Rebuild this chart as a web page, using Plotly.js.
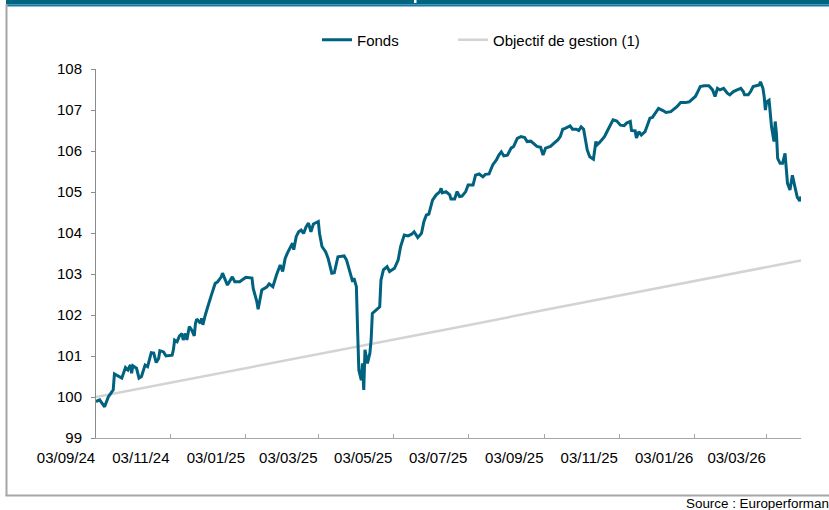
<!DOCTYPE html>
<html>
<head>
<meta charset="utf-8">
<script src="https://cdn.plot.ly/plotly-3.0.1.min.js"></script>
<style>
  html, body { margin: 0; padding: 0; background: #ffffff; }
  #chart { width: 829px; height: 510px; }
</style>
</head>
<body>
<div id="chart"></div>
<script>
// ---- Data ----
const fondsDates = [
  '2024-09-03','2024-09-06','2024-09-10','2024-09-13','2024-09-16','2024-09-17','2024-09-18','2024-09-24','2024-09-27','2024-09-29',
  '2024-10-01','2024-10-02','2024-10-03','2024-10-06','2024-10-08','2024-10-10','2024-10-13','2024-10-15','2024-10-18','2024-10-20',
  '2024-10-22','2024-10-24','2024-10-25','2024-10-28','2024-10-30','2024-11-04','2024-11-05','2024-11-06','2024-11-08','2024-11-10',
  '2024-11-12','2024-11-13','2024-11-15','2024-11-16','2024-11-18','2024-11-20','2024-11-22','2024-11-23','2024-11-24','2024-11-27',
  '2024-11-28','2024-11-29','2024-12-01','2024-12-02','2024-12-03','2024-12-06','2024-12-09','2024-12-11','2024-12-14','2024-12-15',
  '2024-12-18','2024-12-19','2024-12-23','2024-12-25','2024-12-29','2025-01-03','2025-01-08','2025-01-09','2025-01-12','2025-01-13',
  '2025-01-16','2025-01-20','2025-01-22','2025-01-25','2025-01-28','2025-01-31','2025-02-02','2025-02-04','2025-02-06','2025-02-08',
  '2025-02-10','2025-02-11','2025-02-13','2025-02-15','2025-02-17','2025-02-19','2025-02-21','2025-02-23','2025-02-25','2025-02-27',
  '2025-03-01','2025-03-03','2025-03-04','2025-03-06','2025-03-09','2025-03-11','2025-03-14','2025-03-16','2025-03-19','2025-03-24',
  '2025-03-26','2025-03-28','2025-03-30','2025-03-31','2025-04-01','2025-04-03','2025-04-04','2025-04-05','2025-04-07','2025-04-08',
  '2025-04-09','2025-04-10','2025-04-12','2025-04-14','2025-04-15','2025-04-16','2025-04-19','2025-04-22','2025-04-23','2025-04-25',
  '2025-04-28','2025-04-30','2025-05-04','2025-05-07','2025-05-09','2025-05-12','2025-05-15','2025-05-18','2025-05-20','2025-05-23',
  '2025-05-26','2025-05-28','2025-05-30','2025-06-01','2025-06-04','2025-06-07','2025-06-10','2025-06-11','2025-06-12','2025-06-15',
  '2025-06-18','2025-06-19','2025-06-22','2025-06-24','2025-06-26','2025-06-28','2025-07-01','2025-07-03','2025-07-07','2025-07-09',
  '2025-07-12','2025-07-15','2025-07-17','2025-07-20','2025-07-23','2025-07-26','2025-07-28','2025-07-30','2025-08-01','2025-08-04',
  '2025-08-07','2025-08-09','2025-08-12','2025-08-15','2025-08-18','2025-08-20','2025-08-23','2025-08-26','2025-08-28','2025-08-31',
  '2025-09-02','2025-09-04','2025-09-08','2025-09-11','2025-09-14','2025-09-16','2025-09-18','2025-09-20','2025-09-24','2025-09-26',
  '2025-09-29','2025-10-01','2025-10-03','2025-10-05','2025-10-06','2025-10-08','2025-10-10','2025-10-13','2025-10-15','2025-10-16',
  '2025-10-18','2025-10-22','2025-10-24','2025-10-27','2025-10-29','2025-11-01','2025-11-04','2025-11-07','2025-11-09','2025-11-12',
  '2025-11-13','2025-11-16','2025-11-17','2025-11-19','2025-11-21','2025-11-24','2025-11-26','2025-11-28','2025-11-30','2025-12-03',
  '2025-12-05','2025-12-09','2025-12-11','2025-12-15','2025-12-18','2025-12-20','2025-12-23','2025-12-27','2025-12-30','2026-01-01',
  '2026-01-04','2026-01-06','2026-01-08','2026-01-11','2026-01-15','2026-01-18','2026-01-20','2026-01-22','2026-01-24','2026-01-27',
  '2026-01-30','2026-02-01','2026-02-04','2026-02-07','2026-02-10','2026-02-12','2026-02-13','2026-02-16','2026-02-18','2026-02-20',
  '2026-02-23','2026-02-25','2026-02-26','2026-02-28','2026-03-01','2026-03-02','2026-03-03','2026-03-05','2026-03-06','2026-03-07',
  '2026-03-09','2026-03-10','2026-03-11','2026-03-12','2026-03-14','2026-03-16','2026-03-18','2026-03-19','2026-03-20','2026-03-22',
  '2026-03-23','2026-03-24','2026-03-26','2026-03-27','2026-03-28','2026-03-30','2026-03-31'
];
const fondsValues = [
  99.89, 99.93, 99.76, 100.00, 100.13, 100.17, 100.56, 100.46, 100.72, 100.66,
  100.78, 100.58, 100.76, 100.70, 100.46, 100.50, 100.78, 100.74, 101.08, 101.07,
  100.84, 100.94, 101.13, 101.10, 101.00, 101.02, 101.15, 101.39, 101.35, 101.49,
  101.55, 101.39, 101.55, 101.39, 101.72, 101.63, 101.49, 101.80, 101.90, 101.80,
  101.92, 101.76, 102.00, 102.12, 102.20, 102.49, 102.77, 102.81, 102.93, 103.02,
  102.81, 102.73, 102.93, 102.81, 102.81, 102.92, 102.90, 102.65, 102.32, 102.14,
  102.61, 102.68, 102.76, 102.69, 102.98, 103.22, 103.06, 103.38, 103.52, 103.63,
  103.75, 103.59, 103.91, 104.03, 104.07, 103.99, 104.15, 104.24, 104.03, 104.22,
  104.25, 104.28, 103.99, 103.67, 103.54, 103.38, 103.02, 103.03, 103.42, 103.44,
  103.34, 103.10, 102.90, 102.81, 102.90, 102.69, 101.63, 100.66, 100.41, 100.82,
  100.17, 101.15, 100.82, 101.07, 101.39, 102.04, 102.12, 102.20, 102.85, 103.10,
  103.18, 103.06, 103.14, 103.34, 103.67, 103.95, 103.93, 103.97, 104.03, 103.89,
  103.99, 104.28, 104.44, 104.46, 104.80, 104.93, 105.01, 105.09, 104.98, 105.01,
  104.93, 104.83, 104.83, 105.01, 104.89, 104.90, 105.01, 105.17, 105.17, 105.41,
  105.44, 105.37, 105.43, 105.44, 105.66, 105.78, 105.90, 105.98, 105.88, 105.90,
  106.07, 106.11, 106.31, 106.35, 106.33, 106.23, 106.24, 106.15, 106.11, 106.09,
  105.90, 106.07, 106.11, 106.19, 106.27, 106.35, 106.53, 106.55, 106.61, 106.53,
  106.53, 106.50, 106.59, 106.53, 106.35, 106.02, 105.86, 105.80, 106.23, 106.15,
  106.21, 106.35, 106.47, 106.63, 106.76, 106.73, 106.63, 106.62, 106.68, 106.72,
  106.50, 106.49, 106.32, 106.47, 106.39, 106.47, 106.63, 106.80, 106.82, 106.96,
  107.04, 106.98, 106.94, 106.96, 107.02, 107.08, 107.18, 107.18, 107.20, 107.26,
  107.33, 107.45, 107.57, 107.59, 107.59, 107.49, 107.33, 107.53, 107.49, 107.53,
  107.41, 107.37, 107.45, 107.49, 107.53, 107.45, 107.37, 107.37, 107.45, 107.57,
  107.59, 107.61, 107.69, 107.53, 107.33, 107.00, 107.20, 107.24, 106.92, 106.59,
  106.23, 106.72, 106.43, 105.82, 105.70, 105.70, 105.94, 105.54, 105.21, 105.05,
  105.21, 105.41, 105.13, 104.97, 104.87, 104.78, 104.89
];

const objectifDates = [
  '2024-09-03','2024-11-03','2025-01-03','2025-03-03','2025-05-03','2025-07-03',
  '2025-09-03','2025-11-03','2026-01-03','2026-03-03','2026-03-31'
];
const objectifValues = [
  100.00, 100.35, 100.70, 101.04, 101.40, 101.75,
  102.12, 102.47, 102.83, 103.17, 103.33
];

const seriesNames = ['Fonds', 'Objectif de gestion (1)'];
const tickDates = [
  '2024-09-03','2024-11-03','2025-01-03','2025-03-03','2025-05-03',
  '2025-07-03','2025-09-03','2025-11-03','2026-01-03','2026-03-03'
];
const tickLabels = [
  '03/09/24','03/11/24','03/01/25','03/03/25','03/05/25',
  '03/07/25','03/09/25','03/11/25','03/01/26','03/03/26'
];
const yTicks = [99, 100, 101, 102, 103, 104, 105, 106, 107, 108];
const sourceText = 'Source : Europerformance';

// ---- Layout helpers (pixel -> paper) ----
const W = 829, H = 510;
const M = { l: 96, r: 28, t: 69, b: 72 };
const PW = W - M.l - M.r, PH = H - M.t - M.b;
const px = x => (x - M.l) / PW;
const py = y => 1 - (y - M.t) / PH;

const FONT = '"Liberation Sans", Arial, sans-serif';

const traces = [
  {
    type: 'scatter', mode: 'lines',
    name: seriesNames[1],
    x: objectifDates, y: objectifValues,
    line: { color: '#d3d3d3', width: 2.5 },
    legend: 'legend2', hoverinfo: 'skip'
  },
  {
    type: 'scatter', mode: 'lines',
    name: seriesNames[0],
    x: fondsDates, y: fondsValues,
    line: { color: '#00627e', width: 3 },
    legend: 'legend', hoverinfo: 'skip'
  }
];

const legendBase = {
  orientation: 'h',
  xanchor: 'left',
  y: py(40), yanchor: 'middle',
  font: { family: FONT, size: 15, color: '#000000' },
  bgcolor: 'rgba(0,0,0,0)'
};

const layout = {
  width: W, height: H,
  margin: M,
  paper_bgcolor: '#ffffff',
  plot_bgcolor: '#ffffff',
  font: { family: FONT, size: 15, color: '#000000' },
  showlegend: true,
  legend: Object.assign({}, legendBase, { x: px(317) }),
  legend2: Object.assign({}, legendBase, { x: px(453) }),
  xaxis: {
    type: 'date',
    range: ['2024-09-03', '2026-03-31'],
    tickmode: 'array',
    tickvals: tickDates,
    ticktext: tickLabels,
    ticks: 'inside', ticklen: 4, tickwidth: 1, tickcolor: '#a6a6a6',
    showline: true, linecolor: '#a6a6a6', linewidth: 1,
    showgrid: false, zeroline: false,
    tickfont: { family: FONT, size: 15, color: '#000000' },
    ticklabelshift: -30,
    ticklabelstandoff: 6,
    fixedrange: true
  },
  yaxis: {
    range: [99, 108],
    tickmode: 'array',
    tickvals: yTicks,
    ticktext: yTicks.map(String),
    ticks: 'outside', ticklen: 4, tickwidth: 1, tickcolor: '#8c8c8c',
    showline: true, linecolor: '#8c8c8c', linewidth: 1,
    showgrid: false, zeroline: false,
    tickfont: { family: FONT, size: 15, color: '#000000' },
    ticklabelstandoff: 6,
    fixedrange: true
  },
  shapes: [
    { type: 'rect', xref: 'paper', yref: 'paper', x0: px(6), x1: px(830), y0: py(0), y1: py(4.5),
      fillcolor: '#006680', line: { width: 0 }, layer: 'above' },
    { type: 'rect', xref: 'paper', yref: 'paper', x0: px(6), x1: px(830), y0: py(4.5), y1: py(6.5),
      fillcolor: '#1479a6', line: { width: 0 }, layer: 'above' },
    { type: 'rect', xref: 'paper', yref: 'paper', x0: px(414), x1: px(416.5), y0: py(0), y1: py(3),
      fillcolor: '#ffffff', line: { width: 0 }, layer: 'above' },
    { type: 'line', xref: 'paper', yref: 'paper', x0: px(6.5), x1: px(6.5), y0: py(4), y1: py(496),
      line: { color: '#a6a6a6', width: 2 }, layer: 'above' },
    { type: 'line', xref: 'paper', yref: 'paper', x0: px(5.5), x1: px(830), y0: py(495.5), y1: py(495.5),
      line: { color: '#a6a6a6', width: 2 }, layer: 'above' }
  ],
  annotations: [
    { xref: 'paper', yref: 'paper', x: px(684), y: py(503.5), xanchor: 'left', yanchor: 'middle',
      text: sourceText, showarrow: false,
      font: { family: FONT, size: 13.4, color: '#000000' } }
  ]
};

Plotly.newPlot('chart', traces, layout, { displayModeBar: false, staticPlot: true });
</script>
</body>
</html>
